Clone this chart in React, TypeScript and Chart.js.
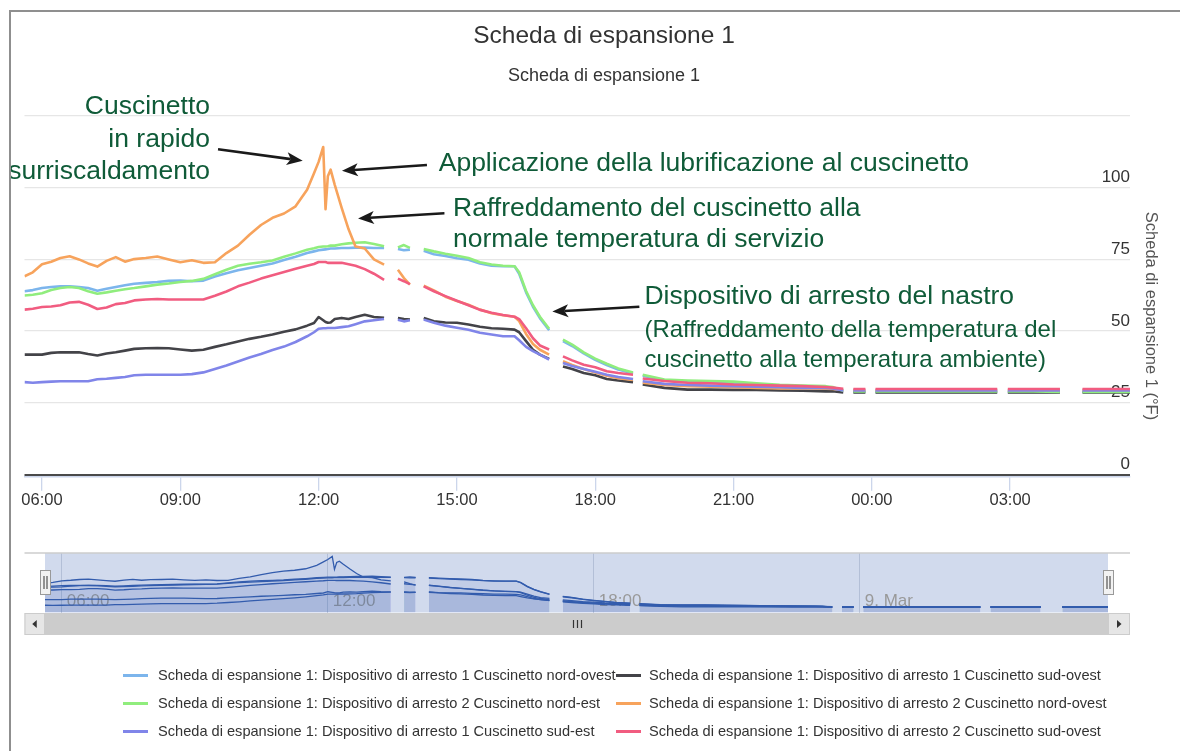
import React, { useEffect, useRef } from 'react';
import { Chart, registerables } from 'chart.js';

Chart.register(...registerables);

const FONT = '"Liberation Sans", Arial, Helvetica, sans-serif';

const TITLE = 'Scheda di espansione 1';
const SUBTITLE = 'Scheda di espansione 1';
const Y_TITLE = 'Scheda di espansione 1 (°F)';

// time axis in hours since midnight of the first day (24+ = next day)
const HOURS = [
  5.62, 5.8, 6.0, 6.2, 6.4, 6.6, 6.8, 7.0, 7.2, 7.4, 7.6, 7.8, 8.0, 8.25, 8.5, 8.75, 9.0, 9.25, 9.5, 9.75,
  10.0, 10.25, 10.5, 10.75, 11.0, 11.25, 11.5, 11.75, 11.9, 12.0, 12.1, 12.15, 12.2, 12.26, 12.35, 12.5, 12.65, 12.8, 13.0, 13.2, 13.42,
  13.57,
  13.72, 13.85, 13.98,
  14.12,
  14.28, 14.5, 14.75, 15.0, 15.25, 15.5, 15.75, 16.0, 16.25, 16.35, 16.5, 16.65, 16.8, 17.0,
  17.15,
  17.3, 17.5, 17.75, 18.0, 18.25, 18.5, 18.82,
  18.92,
  19.03, 19.5, 20.0, 20.5, 21.0, 21.5, 22.0, 22.5, 23.0, 23.15, 23.38,
  23.5,
  23.6, 23.86,
  23.97,
  24.08, 25.0, 26.0, 26.72,
  26.85,
  26.95, 27.5, 28.08,
  28.3,
  28.57, 29.1, 29.6,
];

// Dispositivo di arresto 1 Cuscinetto nord-ovest
const NW1 = [
  63.9, 64.3, 65.0, 65.4, 65.6, 65.6, 65.4, 65.0, 64.1, 64.8, 65.4, 66.0, 66.5, 66.8, 67.1, 67.5, 67.6, 67.4, 67.6, 69.0,
  70.2, 71.2, 72.0, 72.8, 73.6, 74.8, 75.9, 77.2, 77.8, 78.2, 78.4, 78.5, 78.6, 78.8, 78.8, 79.0, 79.0, 79.1, 79.1, 79.0, 79.0,
  null,
  78.6, 78.2, 78.4,
  null,
  78.0, 76.8, 76.2, 75.4, 74.9, 73.6, 72.8, 72.6, 72.6, 70.0, 63.5, 58.5, 54.5, 50.3,
  null,
  46.5, 44.8, 42.2, 40.0, 38.2, 36.6, 35.2,
  null,
  34.4, 32.8, 32.4, 32.2, 32.0, 31.4, 31.0, 30.7, 30.4, 30.2, 29.0,
  null,
  28.8, 28.8,
  null,
  28.8, 28.8, 28.8, 28.8,
  null,
  28.8, 28.8, 28.8,
  null,
  28.8, 28.8, 28.8,
];

// Dispositivo di arresto 1 Cuscinetto sud-ovest
const SW1 = [
  41.8, 41.8, 41.8, 42.4, 42.6, 42.6, 42.6, 42.0, 41.5, 42.2, 42.6, 43.2, 43.8, 44.0, 44.1, 44.0, 43.6, 43.2, 43.5, 44.5,
  45.4, 46.4, 47.3, 48.0, 48.8, 49.8, 50.6, 51.9, 52.8, 54.9, 53.8, 53.2, 52.9, 53.0, 54.2, 54.6, 54.2, 54.9, 55.7, 54.9, 54.6,
  null,
  54.6, 54.2, 54.0,
  null,
  54.6, 53.4, 53.0, 52.9, 52.3, 51.5, 51.0, 50.8, 50.5, 49.6, 46.5, 43.5, 41.8, 40.3,
  null,
  37.7, 36.8, 35.4, 34.6, 33.3, 32.8, 32.2,
  null,
  31.4, 30.2, 29.6, 29.6, 29.5, 29.5, 29.3, 29.2, 29.0, 29.0, 28.6,
  null,
  28.6, 28.6,
  null,
  28.6, 28.6, 28.6, 28.6,
  null,
  28.6, 28.6, 28.6,
  null,
  28.6, 28.6, 28.6,
];

// Dispositivo di arresto 2 Cuscinetto nord-est
const NE2 = [
  62.4, 62.7, 63.2, 64.3, 65.0, 65.4, 65.0, 63.9, 63.0, 63.5, 64.1, 64.6, 65.0, 65.6, 66.2, 66.6, 67.1, 67.5, 68.2, 69.8,
  71.4, 72.8, 73.5, 74.0, 74.6, 75.9, 77.1, 78.4, 78.9, 79.3, 79.5, 79.5, 79.6, 79.8, 79.8, 80.3, 80.6, 80.8, 81.0, 80.4, 79.6,
  null,
  79.2, 80.0, 79.0,
  null,
  78.6, 77.8, 77.0, 76.3, 75.5, 74.0, 73.2, 72.8, 72.6, 70.5, 64.0, 59.0, 55.0, 50.8,
  null,
  47.0, 45.3, 42.6, 40.4, 38.6, 37.0, 35.6,
  null,
  34.8, 33.1, 32.8, 32.6, 32.4, 31.8, 31.3, 31.0, 30.8, 30.5, 29.2,
  null,
  29.0, 29.0,
  null,
  29.0, 29.0, 29.0, 29.0,
  null,
  29.0, 29.0, 28.8,
  null,
  28.8, 28.8, 28.8,
];

// Dispositivo di arresto 2 Cuscinetto nord-ovest
const NW2 = [
  69.1, 70.5, 73.3, 74.2, 75.5, 76.1, 75.0, 73.6, 72.5, 74.5, 75.8, 74.2, 75.1, 75.5, 76.0, 75.0, 74.0, 74.7, 73.8, 74.0,
  77.2, 79.8, 83.6, 87.0, 89.5, 91.0, 93.5, 99.3, 105.0, 109.0, 114.2, 92.5, 104.0, 106.3, 101.0, 93.0, 85.5, 79.5, 78.8, 75.0, 73.2,
  null,
  71.4, 68.5, 66.2,
  null,
  65.8, 64.2, 62.0, 60.5, 59.2, 57.5, 56.2, 55.5, 55.0, 53.5, 49.0, 45.5, 43.5, 41.8,
  null,
  39.5, 38.2, 36.8, 35.6, 34.4, 33.6, 33.0,
  null,
  32.0, 31.2, 30.8, 30.6, 30.4, 30.2, 30.0, 30.0, 29.9, 29.8, 29.6,
  null,
  29.5, 29.5,
  null,
  29.5, 29.5, 29.5, 29.5,
  null,
  29.5, 29.5, 29.5,
  null,
  29.5, 29.5, 29.5,
];

// Dispositivo di arresto 1 Cuscinetto sud-est
const SE1 = [
  32.2, 32.0, 32.2, 32.4, 32.5, 32.5, 32.5, 32.5, 33.2, 33.4, 33.7, 34.0, 34.6, 34.8, 34.8, 34.8, 34.8, 35.0, 35.6, 36.8,
  38.0, 39.4, 40.8, 42.0, 43.4, 44.6, 46.2, 48.2, 49.6, 50.8, 51.0, 51.0, 51.1, 51.1, 51.1, 51.4, 51.7, 52.4, 53.4, 53.8, 54.2,
  null,
  54.0, 53.4, 53.8,
  null,
  54.0, 52.9, 51.9, 51.2, 50.5, 49.4, 48.8, 48.2, 48.2, 46.8, 44.5, 43.0, 41.8, 40.1,
  null,
  38.9, 37.8, 36.8, 35.8, 34.8, 34.0, 33.3,
  null,
  32.5, 31.6, 31.2, 31.0, 30.8, 30.6, 30.4, 30.2, 30.2, 30.0, 29.3,
  null,
  29.3, 29.3,
  null,
  29.3, 29.3, 29.3, 29.3,
  null,
  29.3, 29.3, 29.3,
  null,
  29.3, 29.3, 29.3,
];

// Dispositivo di arresto 2 Cuscinetto sud-ovest
const SW2 = [
  57.5, 57.8, 58.4, 58.6, 59.0, 60.0, 60.2, 59.2, 57.7, 58.2, 59.4, 59.8, 60.7, 61.0, 61.2, 61.0, 61.0, 61.0, 61.0, 62.3,
  63.8, 65.6, 66.9, 68.3, 69.5, 70.6, 71.7, 72.8, 73.4, 74.1, 74.1, 74.1, 73.8, 73.8, 73.8, 73.8, 73.3, 72.8, 71.6, 70.0, 67.9,
  null,
  68.3, 67.4, 66.4,
  null,
  65.6, 63.9, 62.2, 60.6, 59.0, 57.4, 56.4, 55.6, 55.0, 54.2, 51.0, 47.5, 45.0, 43.6,
  null,
  41.2, 39.8, 38.3, 37.4, 36.0, 35.4, 34.8,
  null,
  33.5, 32.6, 32.0, 31.8, 31.4, 31.2, 31.0, 30.8, 30.5, 30.3, 29.9,
  null,
  29.8, 29.8,
  null,
  29.8, 29.8, 29.8, 29.8,
  null,
  29.8, 29.8, 29.8,
  null,
  29.8, 29.8, 29.8,
];

const SERIES_NAMES = [
  'Scheda di espansione 1: Dispositivo di arresto 1 Cuscinetto nord-ovest',
  'Scheda di espansione 1: Dispositivo di arresto 1 Cuscinetto sud-ovest',
  'Scheda di espansione 1: Dispositivo di arresto 2 Cuscinetto nord-est',
  'Scheda di espansione 1: Dispositivo di arresto 2 Cuscinetto nord-ovest',
  'Scheda di espansione 1: Dispositivo di arresto 1 Cuscinetto sud-est',
  'Scheda di espansione 1: Dispositivo di arresto 2 Cuscinetto sud-ovest',
];
const SERIES_VALUES = [NW1, SW1, NE2, NW2, SE1, SW2];
const SERIES_COLORS = ['#7cb5ec', '#434348', '#90ed7d', '#f7a35c', '#8085e9', '#f15c80'];

const X_MIN = 5.62;
const X_MAX = 29.6;
const X_TICKS = [6, 9, 12, 15, 18, 21, 24, 27];
const Y_TICKS = [0, 25, 50, 75, 100, 125];
const NAV_TICKS = [6, 12, 18, 24];
const NAV_LABELS = ['06:00', '12:00', '18:00', '9. Mar'];

// annotation texts anchored in data units (hour, °F)
const NOTE_TEXTS = [
  { text: 'Cuscinetto', h: 9.644, v: 128.1, align: 'right', size: 26.5 },
  { text: 'in rapido', h: 9.644, v: 116.6, align: 'right', size: 26.5 },
  { text: 'surriscaldamento', h: 9.644, v: 105.5, align: 'right', size: 26.5 },
  { text: 'Applicazione della lubrificazione al cuscinetto', h: 14.605, v: 108.3, align: 'left', size: 26.5 },
  { text: 'Raffreddamento del cuscinetto alla', h: 14.915, v: 92.8, align: 'left', size: 26.5 },
  { text: 'normale temperatura di servizio', h: 14.915, v: 81.8, align: 'left', size: 26.5 },
  { text: 'Dispositivo di arresto del nastro', h: 19.067, v: 62.0, align: 'left', size: 26.5 },
  { text: '(Raffreddamento della temperatura del', h: 19.067, v: 50.2, align: 'left', size: 24 },
  { text: 'cuscinetto alla temperatura ambiente)', h: 19.067, v: 39.9, align: 'left', size: 24 },
];
const NOTE_ARROWS = [
  { from: [9.818, 113.4], to: [11.655, 109.4] },
  { from: [14.35, 107.9], to: [12.507, 105.9] },
  { from: [14.729, 91.1], to: [12.855, 89.3] },
  { from: [18.957, 58.5], to: [17.07, 56.8] },
];

function hourLabel(h: number) {
  const hh = ((Math.round(h) % 24) + 24) % 24;
  return String(hh).padStart(2, '0') + ':00';
}

function makeData(vals: (number | null)[]) {
  return HOURS.map((h, i) => ({ x: h, y: vals[i] }));
}

const mainDecor = {
  id: 'mainDecor',
  afterDraw(chart: any) {
    const ctx = chart.ctx;
    const xs = chart.scales.x;
    const ys = chart.scales.y;
    ctx.save();
    ctx.textBaseline = 'middle';
    ctx.textAlign = 'center';
    ctx.fillStyle = '#333333';
    ctx.font = `24.5px ${FONT}`;
    ctx.fillText(TITLE, 604, 36);
    ctx.font = `18px ${FONT}`;
    ctx.fillText(SUBTITLE, 604, 76);

    ctx.save();
    ctx.translate(1151, 316);
    ctx.rotate(Math.PI / 2);
    ctx.fillStyle = '#555555';
    ctx.font = `16.5px ${FONT}`;
    ctx.fillText(Y_TITLE, 0, 0);
    ctx.restore();

    ctx.fillStyle = '#0f5b38';
    for (const n of NOTE_TEXTS) {
      ctx.font = `${n.size}px ${FONT}`;
      ctx.textAlign = n.align;
      ctx.fillText(n.text, xs.getPixelForValue(n.h), ys.getPixelForValue(n.v));
    }

    ctx.strokeStyle = '#1a1a1a';
    ctx.fillStyle = '#1a1a1a';
    for (const a of NOTE_ARROWS) {
      const x1 = xs.getPixelForValue(a.from[0]);
      const y1 = ys.getPixelForValue(a.from[1]);
      const x2 = xs.getPixelForValue(a.to[0]);
      const y2 = ys.getPixelForValue(a.to[1]);
      const ang = Math.atan2(y2 - y1, x2 - x1);
      const L = 16;
      const W = 6.5;
      const c = Math.cos(ang);
      const s = Math.sin(ang);
      const bx = x2 - L * c;
      const by = y2 - L * s;
      ctx.lineWidth = 2.6;
      ctx.beginPath();
      ctx.moveTo(x1, y1);
      ctx.lineTo(bx + 4 * c, by + 4 * s);
      ctx.stroke();
      ctx.beginPath();
      ctx.moveTo(x2, y2);
      ctx.lineTo(bx - W * s, by + W * c);
      ctx.lineTo(bx + 4 * c, by + 4 * s);
      ctx.lineTo(bx + W * s, by - W * c);
      ctx.closePath();
      ctx.fill();
    }
    ctx.restore();
  },
};

const navDecor = {
  id: 'navDecor',
  beforeDatasetsDraw(chart: any) {
    const ctx = chart.ctx;
    const ca = chart.chartArea;
    const xs = chart.scales.x;
    ctx.save();
    ctx.fillStyle = 'rgba(102,133,194,0.3)';
    ctx.fillRect(ca.left, ca.top, ca.right - ca.left, ca.bottom - ca.top);
    ctx.fillStyle = '#999999';
    ctx.font = `17px ${FONT}`;
    ctx.textAlign = 'left';
    ctx.textBaseline = 'middle';
    NAV_TICKS.forEach((t, i) => {
      ctx.fillText(NAV_LABELS[i], xs.getPixelForValue(t) + 5, ca.bottom - 11);
    });
    ctx.restore();
  },
  afterDraw(chart: any) {
    const ctx = chart.ctx;
    const ca = chart.chartArea;
    const outerL = 24.5;
    const outerR = 1130;
    ctx.save();
    // outline
    ctx.strokeStyle = '#cccccc';
    ctx.lineWidth = 1.5;
    ctx.beginPath();
    ctx.moveTo(outerL, ca.top);
    ctx.lineTo(outerR, ca.top);
    ctx.stroke();
    // scrollbar
    const sbTop = ca.bottom + 0.5;
    const sbH = 22;
    ctx.fillStyle = '#f2f2f2';
    ctx.fillRect(outerL, sbTop, outerR - outerL, sbH);
    ctx.fillStyle = '#cccccc';
    ctx.fillRect(ca.left, sbTop, ca.right - ca.left, sbH);
    ctx.lineWidth = 1;
    ctx.strokeStyle = '#cccccc';
    ctx.fillStyle = '#e6e6e6';
    ctx.fillRect(outerL, sbTop, ca.left - outerL, sbH);
    ctx.strokeRect(outerL + 0.5, sbTop + 0.5, ca.left - outerL - 1, sbH - 1);
    ctx.fillRect(ca.right, sbTop, outerR - ca.right, sbH);
    ctx.strokeRect(ca.right + 0.5, sbTop + 0.5, outerR - ca.right - 1, sbH - 1);
    const cy = sbTop + sbH / 2;
    ctx.fillStyle = '#333333';
    let cx = (outerL + ca.left) / 2;
    ctx.beginPath();
    ctx.moveTo(cx - 2.5, cy);
    ctx.lineTo(cx + 2, cy - 4);
    ctx.lineTo(cx + 2, cy + 4);
    ctx.closePath();
    ctx.fill();
    cx = (ca.right + outerR) / 2;
    ctx.beginPath();
    ctx.moveTo(cx + 2.5, cy);
    ctx.lineTo(cx - 2, cy - 4);
    ctx.lineTo(cx - 2, cy + 4);
    ctx.closePath();
    ctx.fill();
    const gx = Math.round((ca.left + ca.right) / 2) + 0.5;
    ctx.strokeStyle = '#333333';
    ctx.lineWidth = 1.2;
    ctx.beginPath();
    for (const dx of [-4, 0, 4]) {
      ctx.moveTo(gx + dx, cy - 4);
      ctx.lineTo(gx + dx, cy + 4);
    }
    ctx.stroke();
    // handles
    for (const hx of [ca.left, ca.right]) {
      const x = Math.round(hx) + 0.5;
      ctx.fillStyle = '#f2f2f2';
      ctx.strokeStyle = '#999999';
      ctx.lineWidth = 1;
      ctx.fillRect(x - 5, 30.5, 10, 24);
      ctx.strokeRect(x - 5, 30.5, 10, 24);
      ctx.strokeStyle = '#333333';
      ctx.beginPath();
      ctx.moveTo(x - 1.5, 36);
      ctx.lineTo(x - 1.5, 49);
      ctx.moveTo(x + 1.5, 36);
      ctx.lineTo(x + 1.5, 49);
      ctx.stroke();
    }
    ctx.restore();
  },
};

export default function App() {
  const mainRef = useRef<HTMLCanvasElement>(null);
  const navRef = useRef<HTMLCanvasElement>(null);

  useEffect(() => {
    document.body.style.margin = '0';
    const n = SERIES_VALUES.length;

    const mainChart = new Chart(mainRef.current as HTMLCanvasElement, {
      type: 'line',
      data: {
        datasets: SERIES_VALUES.map((vals, i) => ({
          label: SERIES_NAMES[i],
          data: makeData(vals),
          borderColor: SERIES_COLORS[i],
          backgroundColor: SERIES_COLORS[i],
          borderWidth: 2.6,
          pointRadius: 0,
          fill: false,
          tension: 0,
          spanGaps: false,
          borderJoinStyle: 'round',
          order: n - i,
        })),
      },
      options: {
        animation: false,
        responsive: false,
        devicePixelRatio: 1,
        events: [],
        layout: { padding: { left: 24.5, top: 116, right: 0, bottom: 13.2 } },
        plugins: {
          legend: { display: false },
          title: { display: false },
          tooltip: { enabled: false },
        },
        scales: {
          x: {
            type: 'linear',
            min: X_MIN,
            max: X_MAX,
            afterBuildTicks: (s: any) => {
              s.ticks = X_TICKS.map((v) => ({ value: v }));
            },
            afterFit: (s: any) => {
              s.height = 40;
            },
            ticks: {
              callback: (v: any) => hourLabel(Number(v)),
              color: '#333333',
              font: { family: FONT, size: 16.5 },
              maxRotation: 0,
              autoSkip: false,
              padding: 0,
            },
            grid: { drawOnChartArea: false, color: '#ccd6eb', tickLength: 14, lineWidth: 1.3 },
            border: { display: true, color: '#ccd6eb', width: 1.5 },
          },
          y: {
            type: 'linear',
            position: 'right',
            min: -0.8,
            max: 125,
            afterBuildTicks: (s: any) => {
              s.ticks = Y_TICKS.map((v) => ({ value: v }));
            },
            afterFit: (s: any) => {
              s.width = 50;
            },
            ticks: {
              mirror: true,
              padding: 0,
              labelOffset: -10,
              color: '#333333',
              font: { family: FONT, size: 17 },
              callback: (v: any) => (Number(v) === 125 ? '' : String(v)),
            },
            grid: {
              drawTicks: false,
              color: (c: any) => (c.tick && c.tick.value === 0 ? '#4a4a4a' : '#e6e6e6'),
              lineWidth: (c: any) => (c.tick && c.tick.value === 0 ? 2 : 1.3),
            },
            border: { display: false },
          },
        },
      } as any,
      plugins: [mainDecor],
    });

    const navChart = new Chart(navRef.current as HTMLCanvasElement, {
      type: 'line',
      data: {
        datasets: SERIES_VALUES.map((vals, i) => ({
          label: SERIES_NAMES[i],
          data: makeData(vals),
          borderColor: '#335cad',
          backgroundColor: 'rgba(51,92,173,0.05)',
          borderWidth: 1.3,
          pointRadius: 0,
          fill: 'start',
          tension: 0,
          spanGaps: false,
          order: n - i,
        })),
      },
      options: {
        animation: false,
        responsive: false,
        devicePixelRatio: 1,
        events: [],
        layout: { padding: { left: 45, top: 13, right: 72, bottom: 27.5 } },
        plugins: {
          legend: { display: false },
          title: { display: false },
          tooltip: { enabled: false },
          filler: { propagate: false },
        },
        scales: {
          x: {
            type: 'linear',
            min: X_MIN,
            max: X_MAX,
            afterBuildTicks: (s: any) => {
              s.ticks = NAV_TICKS.map((v) => ({ value: v }));
            },
            afterFit: (s: any) => {
              s.height = 0;
            },
            ticks: { display: false },
            grid: { drawTicks: false, color: '#d5d9e0', lineWidth: 1 },
            border: { display: false },
          },
          y: { type: 'linear', display: false, min: 20, max: 120 },
        },
      } as any,
      plugins: [navDecor],
    });

    return () => {
      mainChart.destroy();
      navChart.destroy();
    };
  }, []);

  return (
    <div style={{ position: 'relative', width: 1180, height: 751, overflow: 'hidden', background: '#ffffff' }}>
      <canvas ref={mainRef} width={1180} height={530} style={{ position: 'absolute', left: 0, top: 0, width: 1180, height: 530 }} />
      <canvas ref={navRef} width={1180} height={100} style={{ position: 'absolute', left: 0, top: 540, width: 1180, height: 100 }} />
      <div style={{ position: 'absolute', left: 9, top: 10, width: 1200, height: 760, borderTop: '2px solid #8f8f8f', borderLeft: '2px solid #8f8f8f', pointerEvents: 'none' }} />
      {SERIES_NAMES.map((name, i) => {
        const col = i % 2;
        const row = Math.floor(i / 2);
        const cy = 675 + row * 28;
        const symLeft = col === 0 ? 123 : 616;
        const textLeft = col === 0 ? 158 : 649;
        return (
          <React.Fragment key={name}>
            <div style={{ position: 'absolute', left: symLeft, top: cy - 1.5, width: 25, height: 3, background: SERIES_COLORS[i] }} />
            <div style={{ position: 'absolute', left: textLeft, top: cy - 9, height: 18, lineHeight: '18px', fontFamily: FONT, fontSize: 14.6, color: '#333333', whiteSpace: 'nowrap' }}>
              {name}
            </div>
          </React.Fragment>
        );
      })}
    </div>
  );
}
